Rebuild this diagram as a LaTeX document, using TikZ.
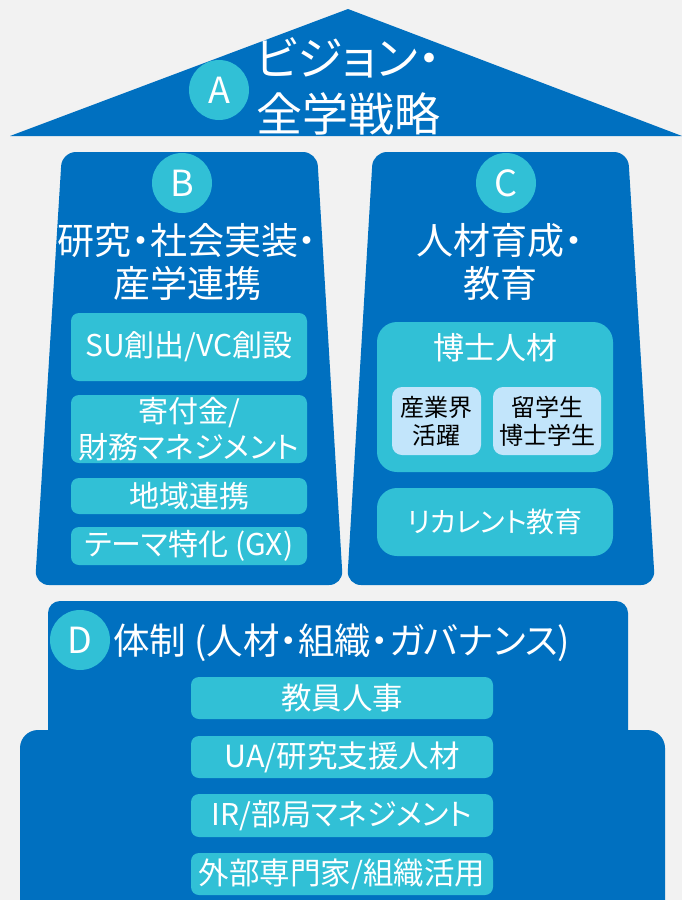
\documentclass[tikz,border=0pt]{standalone}
\usepackage{fontspec}
\setmainfont{Noto Sans CJK JP}[RawFeature=+palt]
\definecolor{bgc}{HTML}{F2F2F2}
\definecolor{mainblue}{HTML}{0070C0}
\definecolor{cyanc}{HTML}{31C0D6}
\definecolor{lightc}{HTML}{C2E5FB}
\tikzset{
  circ/.style={circle, fill=cyanc, text=white, minimum size=60pt, inner sep=0pt, font=\fontsize{36}{40}\selectfont},
  ttl/.style={text=white, align=center, inner sep=0pt},
  bbox/.style={rounded corners=8pt, fill=cyanc, text=white, align=center, inner sep=0pt},
  ibox/.style={rounded corners=10pt, fill=lightc, text=black, align=center, inner sep=0pt, font=\fontsize{24}{28}\selectfont},
}
\begin{document}
\begin{tikzpicture}[x=1pt,y=-1pt]
\useasboundingbox (0,0) rectangle (682,900);
\clip (0,0) rectangle (682,900);
\fill[bgc] (0,0) rectangle (682,900);
% roof
\fill[mainblue] (10,136) -- (348,9) -- (682,136) -- cycle;
\node[circ] (cA) at (219,90) {A};
\node[ttl, font=\fontsize{46}{56}\selectfont] (tA) at (348,86) {ビジョン・\\全学戦略};
% pillar B
\fill[mainblue, rounded corners=14pt] (62,152) -- (317,152) -- (343,585) -- (35,585) -- cycle;
\node[circ] (cB) at (182,183) {B};
\node[ttl, font=\fontsize{37}{43}\selectfont] (tB) at (187,262) {研究・社会実装・\\産学連携};
\node[bbox, minimum width=236pt, minimum height=68pt, font=\fontsize{30}{32}\selectfont] (b1) at (189,347) {SU創出/VC創設};
\node[bbox, minimum width=236pt, minimum height=68pt, font=\fontsize{30}{36}\selectfont] (b2) at (189,429) {寄付金/\\財務マネジメント};
\node[bbox, minimum width=236pt, minimum height=36pt, font=\fontsize{30}{32}\selectfont] (b3) at (189,496) {地域連携};
\node[bbox, minimum width=236pt, minimum height=38pt, font=\fontsize{30}{32}\selectfont] (b4) at (189,546) {テーマ特化 (GX)};
% pillar C
\fill[mainblue, rounded corners=14pt] (373,152) -- (628,152) -- (655,585) -- (347,585) -- cycle;
\node[circ] (cC) at (506,183) {C};
\node[ttl, font=\fontsize{37}{43}\selectfont] (tC) at (500,262) {人材育成・\\教育};
\node[bbox, rounded corners=20pt, minimum width=236pt, minimum height=150pt] (c1) at (495,397) {};
\node[ttl, font=\fontsize{31}{32}\selectfont] (c1t) at (495,348) {博士人材};
\node[ibox, minimum width=89pt, minimum height=68pt] (c2) at (436.5,421) {産業界\\活躍};
\node[ibox, minimum width=108pt, minimum height=68pt] (c3) at (547,421) {留学生\\博士学生};
\node[bbox, rounded corners=20pt, minimum width=236pt, minimum height=68pt, font=\fontsize{28}{32}\selectfont] (c4) at (495,522) {リカレント教育};
% base D
\fill[mainblue, rounded corners=12pt] (48,601) rectangle (628,745);
\fill[mainblue, rounded corners=18pt] (20,730) rectangle (665,930);
\node[circ] (cD) at (80,640) {D};
\node[ttl, anchor=west, font=\fontsize{36.5}{40}\selectfont] (tD) at (113,643) {体制 (人材・組織・ガバナンス)};
\node[bbox, minimum width=302pt, minimum height=42pt, font=\fontsize{30.5}{32}\selectfont] (d1) at (342,698) {教員人事};
\node[bbox, minimum width=302pt, minimum height=42pt, font=\fontsize{30.5}{32}\selectfont] (d2) at (342,757) {UA/研究支援人材};
\node[bbox, minimum width=302pt, minimum height=43pt, font=\fontsize{30}{32}\selectfont] (d3) at (342,815.5) {IR/部局マネジメント};
\node[bbox, minimum width=302pt, minimum height=42pt, font=\fontsize{30.5}{32}\selectfont] (d4) at (342,874) {外部専門家/組織活用};
\end{tikzpicture}
\end{document}
